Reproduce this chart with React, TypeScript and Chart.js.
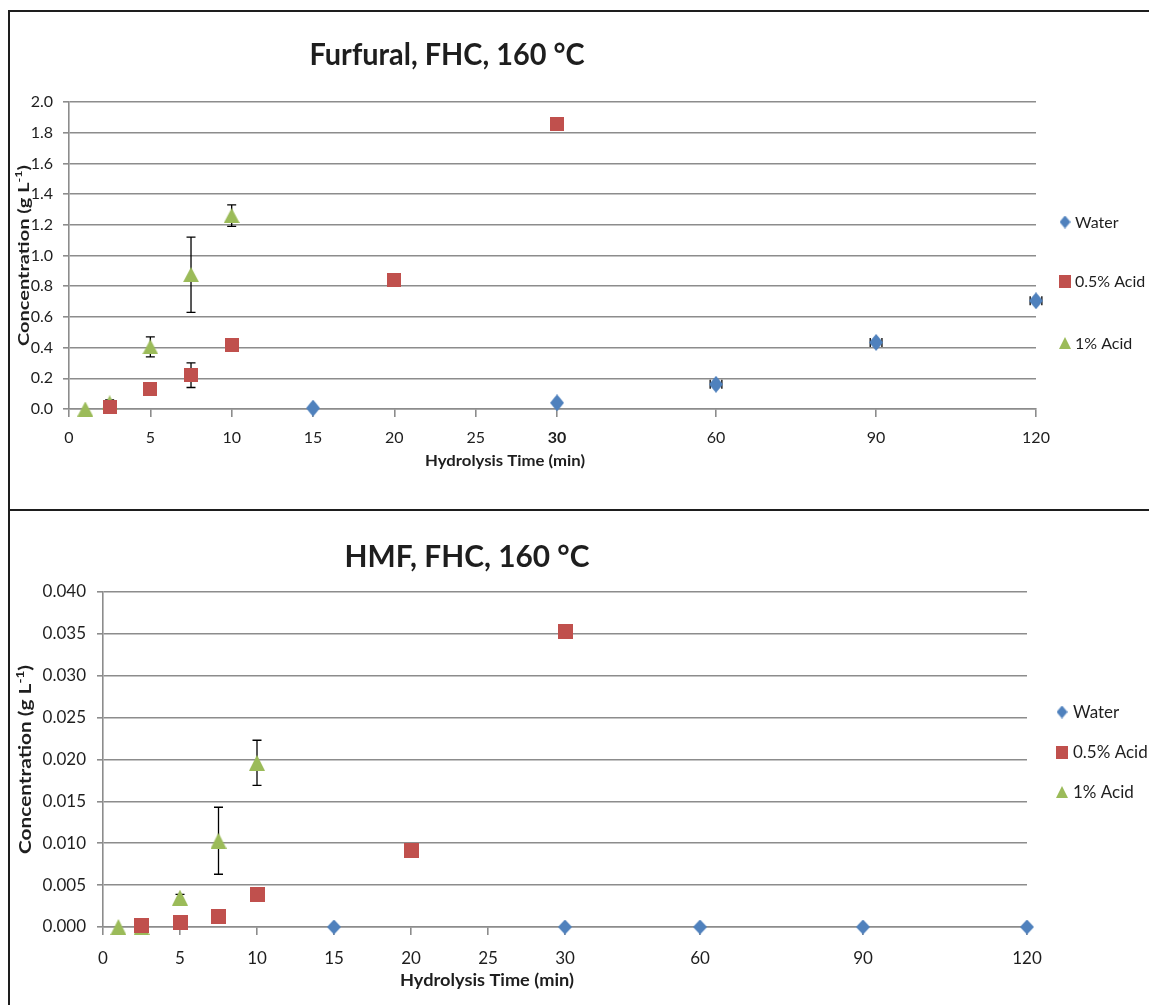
import React, { useEffect, useRef } from 'react';
import { Chart, registerables } from 'chart.js';

Chart.register(...registerables);

// ---------------- DATA ----------------
const timeTicks = [0, 5, 10, 15, 20, 25, 30, 60, 90, 120];
const seriesNames = ['Water', '0.5% Acid', '1% Acid'];

// Furfural (g/L)
const furfuralYTicks = [0, 0.2, 0.4, 0.6, 0.8, 1.0, 1.2, 1.4, 1.6, 1.8, 2.0];
const furfuralWaterX = [15, 30, 60, 90, 120];
const furfuralWaterY = [0.006, 0.04, 0.161, 0.434, 0.705];
const furfuralWaterXErr = [0, 0, 1.1, 1.1, 1.1];
const furfuralAcid05X = [2.5, 5, 7.5, 10, 20, 30];
const furfuralAcid05Y = [0.01, 0.13, 0.22, 0.42, 0.84, 1.855];
const furfuralAcid05YErr = [0, 0, 0.08, 0, 0, 0];
const furfuralAcid1X = [1, 2.5, 5, 7.5, 10];
const furfuralAcid1Y = [0.0, 0.04, 0.405, 0.875, 1.26];
const furfuralAcid1YErr = [0, 0.02, 0.065, 0.245, 0.07];

// HMF (g/L)
const hmfYTicks = [0, 0.005, 0.01, 0.015, 0.02, 0.025, 0.03, 0.035, 0.04];
const hmfWaterX = [15, 30, 60, 90, 120];
const hmfWaterY = [0, 0, 0, 0, 0];
const hmfAcid05X = [2.5, 5, 7.5, 10, 20, 30];
const hmfAcid05Y = [0.0002, 0.0005, 0.0013, 0.0039, 0.0091, 0.0353];
const hmfAcid1X = [1, 2.5, 5, 7.5, 10];
const hmfAcid1Y = [0, 0, 0.0035, 0.0103, 0.0196];
const hmfAcid1YErr = [0, 0, 0.0004, 0.004, 0.0027];

// ---------------- STYLE / LAYOUT ----------------
const FONT = 'Lato, "Open Sans", sans-serif';
const GRID = '#8c8c8c';
const TXT = '#1e1e1e';
const BLUE = '#4F81BD';
const RED = '#C0504D';
const GREEN = '#9BBB59';

// broken time axis: [real minutes, axis units]
const furfuralAxisAnchors = [[0, 0], [30, 30], [60, 39.77], [90, 49.61], [120, 59.44]];
const hmfAxisAnchors = [[0, 0], [30, 30], [60, 38.77], [90, 49.35], [120, 60]];

function toU(x: number, anchors: number[][]): number {
  for (let i = 1; i < anchors.length; i++) {
    const [x0, u0] = anchors[i - 1];
    const [x1, u1] = anchors[i];
    if (x <= x1 || i === anchors.length - 1) return u0 + ((x - x0) * (u1 - u0)) / (x1 - x0);
  }
  return x;
}

function makeMarker(kind: string, w: number, h: number, color: string): HTMLCanvasElement {
  const c = document.createElement('canvas');
  c.width = w;
  c.height = h;
  const g = c.getContext('2d')!;
  g.fillStyle = color;
  g.beginPath();
  if (kind === 'diamond') {
    g.moveTo(w / 2, 0);
    g.lineTo(w, h / 2);
    g.lineTo(w / 2, h);
    g.lineTo(0, h / 2);
  } else if (kind === 'square') {
    g.rect(0, 0, w, h);
  } else {
    g.moveTo(w / 2, 0);
    g.lineTo(w, h);
    g.lineTo(0, h);
  }
  g.closePath();
  g.fill();
  return c;
}

interface Series {
  xs: number[];
  ys: number[];
  yErr?: number[];
  xErr?: number[];
  marker: HTMLCanvasElement;
  legendMarker: HTMLCanvasElement;
}

interface PanelCfg {
  W: number;
  H: number;
  area: { left: number; top: number; right: number; bottom: number };
  xAxisH: number;
  anchors: number[][];
  yTicks: number[];
  yDecimals: number;
  yTickSize: number;
  xTickSize: number;
  yPad: number;
  xPad: number;
  boldThirty: boolean;
  title: string;
  titleSize: number;
  titleX: number;
  titleBase: number;
  titleW: number;
  yTitleX: number;
  yTitleLen: number;
  yTitleSize: number;
  xTitleX: number;
  xTitleBase: number;
  xTitleW: number;
  xTitleSize: number;
  legendX: number;
  legendTextX: number;
  legendYs: number[];
  legendSize: number;
  series: Series[];
}

function fitFill(ctx: CanvasRenderingContext2D, text: string, x: number, y: number, font: string, width: number) {
  ctx.save();
  ctx.font = font;
  const w = ctx.measureText(text).width;
  ctx.translate(x, y);
  ctx.scale(width / w, 1);
  ctx.textAlign = 'center';
  ctx.textBaseline = 'alphabetic';
  ctx.fillStyle = TXT;
  ctx.fillText(text, 0, 0);
  ctx.restore();
}

function drawYTitle(ctx: CanvasRenderingContext2D, cx: number, cy: number, len: number, size: number) {
  ctx.save();
  ctx.translate(cx, cy);
  ctx.rotate(-Math.PI / 2);
  const main = 'Concentration (g L';
  const sup = '-1';
  const end = ')';
  const fMain = `bold ${size}px ${FONT}`;
  const fSup = `bold ${Math.round(size * 0.62)}px ${FONT}`;
  ctx.font = fMain;
  const w1 = ctx.measureText(main).width;
  const w3 = ctx.measureText(end).width;
  ctx.font = fSup;
  const w2 = ctx.measureText(sup).width;
  const total = w1 + w2 + w3;
  ctx.scale(len / total, 1);
  ctx.fillStyle = TXT;
  ctx.textAlign = 'left';
  ctx.textBaseline = 'alphabetic';
  let x = -total / 2;
  ctx.font = fMain;
  ctx.fillText(main, x, 0);
  x += w1;
  ctx.font = fSup;
  ctx.fillText(sup, x, -size * 0.42);
  x += w2;
  ctx.font = fMain;
  ctx.fillText(end, x, 0);
  ctx.restore();
}

function buildChart(canvas: HTMLCanvasElement, cfg: PanelCfg): Chart {
  const { anchors, area } = cfg;
  const plugin = {
    id: 'panelDecor',
    beforeDatasetsDraw(chart: any) {
      const ctx: CanvasRenderingContext2D = chart.ctx;
      const xs = chart.scales.x;
      const ys = chart.scales.y;
      ctx.save();
      ctx.strokeStyle = '#000';
      ctx.lineWidth = 1.3;
      const cap = 4.5;
      cfg.series.forEach((s) => {
        s.xs.forEach((x, i) => {
          const y = s.ys[i];
          const e = s.yErr ? s.yErr[i] : 0;
          const px = xs.getPixelForValue(toU(x, anchors));
          const py = ys.getPixelForValue(y);
          if (e > 0) {
            const t = ys.getPixelForValue(y + e);
            const b = ys.getPixelForValue(y - e);
            ctx.beginPath();
            ctx.moveTo(px, t);
            ctx.lineTo(px, b);
            ctx.moveTo(px - cap, t);
            ctx.lineTo(px + cap, t);
            ctx.moveTo(px - cap, b);
            ctx.lineTo(px + cap, b);
            ctx.stroke();
          }
          const xe = s.xErr ? s.xErr[i] : 0;
          if (xe > 0) {
            const l = xs.getPixelForValue(toU(x - xe, anchors));
            const r = xs.getPixelForValue(toU(x + xe, anchors));
            ctx.beginPath();
            ctx.moveTo(l, py);
            ctx.lineTo(r, py);
            ctx.moveTo(l, py - cap);
            ctx.lineTo(l, py + cap);
            ctx.moveTo(r, py - cap);
            ctx.lineTo(r, py + cap);
            ctx.stroke();
          }
        });
      });
      ctx.restore();
    },
    afterDraw(chart: any) {
      const ctx: CanvasRenderingContext2D = chart.ctx;
      fitFill(ctx, cfg.title, cfg.titleX, cfg.titleBase, `bold ${cfg.titleSize}px ${FONT}`, cfg.titleW);
      const cy = (chart.chartArea.top + chart.chartArea.bottom) / 2;
      drawYTitle(ctx, cfg.yTitleX, cy, cfg.yTitleLen, cfg.yTitleSize);
      fitFill(ctx, 'Hydrolysis Time (min)', cfg.xTitleX, cfg.xTitleBase, `bold ${cfg.xTitleSize}px ${FONT}`, cfg.xTitleW);
      // legend
      ctx.save();
      ctx.font = `${cfg.legendSize}px ${FONT}`;
      ctx.fillStyle = TXT;
      ctx.textAlign = 'left';
      ctx.textBaseline = 'middle';
      cfg.series.forEach((s, i) => {
        const m = s.legendMarker;
        const ly = cfg.legendYs[i];
        ctx.drawImage(m, cfg.legendX - m.width / 2, ly - m.height / 2);
        ctx.fillText(seriesNames[i], cfg.legendTextX, ly + 1);
      });
      ctx.restore();
    },
  };

  const uMax = anchors[anchors.length - 1][1];

  return new Chart(canvas, {
    type: 'scatter',
    data: {
      datasets: cfg.series.map((s, k) => ({
        label: seriesNames[k],
        data: s.xs.map((x, i) => ({ x: toU(x, anchors), y: s.ys[i] })),
        pointStyle: s.marker as any,
        pointRadius: 7,
        pointHoverRadius: 7,
        backgroundColor: '#000',
        borderColor: '#000',
        showLine: false,
        clip: false as any,
      })),
    },
    options: {
      animation: false,
      responsive: false,
      events: [],
      layout: {
        padding: {
          left: 0,
          top: area.top,
          right: cfg.W - area.right,
          bottom: cfg.H - area.bottom - cfg.xAxisH,
        },
      },
      plugins: {
        legend: { display: false },
        tooltip: { enabled: false },
        title: { display: false },
      },
      scales: {
        x: {
          type: 'linear',
          min: 0,
          max: uMax,
          afterBuildTicks: (s: any) => {
            s.ticks = timeTicks.map((t) => ({ value: toU(t, anchors) }));
          },
          afterFit: (s: any) => {
            s.height = cfg.xAxisH;
          },
          grid: {
            display: true,
            drawOnChartArea: false,
            drawTicks: true,
            tickLength: 8,
            color: GRID,
            lineWidth: 1.6,
          },
          border: { display: true, color: GRID, width: 1.6 },
          ticks: {
            autoSkip: false,
            maxRotation: 0,
            minRotation: 0,
            padding: cfg.xPad,
            color: TXT,
            font: (c: any) => ({
              family: FONT,
              size: cfg.xTickSize,
              weight: cfg.boldThirty && c.index === 6 ? 'bold' : 'normal',
            }),
            callback: (_v: any, i: number) => String(timeTicks[i]),
          },
        },
        y: {
          type: 'linear',
          min: 0,
          max: cfg.yTicks[cfg.yTicks.length - 1],
          afterBuildTicks: (s: any) => {
            s.ticks = cfg.yTicks.map((t) => ({ value: t }));
          },
          afterFit: (s: any) => {
            s.width = area.left;
          },
          grid: {
            display: true,
            drawOnChartArea: true,
            drawTicks: true,
            tickLength: 6,
            color: GRID,
            lineWidth: 1.6,
          },
          border: { display: true, color: GRID, width: 1.6 },
          ticks: {
            padding: cfg.yPad,
            color: TXT,
            font: { family: FONT, size: cfg.yTickSize },
            callback: (_v: any, i: number) => cfg.yTicks[i].toFixed(cfg.yDecimals),
          },
        },
      },
    },
    plugins: [plugin],
  } as any);
}

export default function App() {
  const c1 = useRef<HTMLCanvasElement>(null);
  const c2 = useRef<HTMLCanvasElement>(null);

  useEffect(() => {
    const topSeries: Series[] = [
      {
        xs: furfuralWaterX,
        ys: furfuralWaterY,
        xErr: furfuralWaterXErr,
        marker: makeMarker('diamond', 14, 17, BLUE),
        legendMarker: makeMarker('diamond', 11, 13, BLUE),
      },
      {
        xs: furfuralAcid05X,
        ys: furfuralAcid05Y,
        yErr: furfuralAcid05YErr,
        marker: makeMarker('square', 14, 14, RED),
        legendMarker: makeMarker('square', 12, 13, RED),
      },
      {
        xs: furfuralAcid1X,
        ys: furfuralAcid1Y,
        yErr: furfuralAcid1YErr,
        marker: makeMarker('triangle', 16, 15, GREEN),
        legendMarker: makeMarker('triangle', 12, 12, GREEN),
      },
    ];
    const botSeries: Series[] = [
      {
        xs: hmfWaterX,
        ys: hmfWaterY,
        marker: makeMarker('diamond', 14, 15, BLUE),
        legendMarker: makeMarker('diamond', 11, 13, BLUE),
      },
      {
        xs: hmfAcid05X,
        ys: hmfAcid05Y,
        marker: makeMarker('square', 15, 15, RED),
        legendMarker: makeMarker('square', 12, 13, RED),
      },
      {
        xs: hmfAcid1X,
        ys: hmfAcid1Y,
        yErr: hmfAcid1YErr,
        marker: makeMarker('triangle', 16, 16, GREEN),
        legendMarker: makeMarker('triangle', 12, 12, GREEN),
      },
    ];

    const top = buildChart(c1.current!, {
      W: 1139,
      H: 497,
      area: { left: 59, top: 90, right: 1026, bottom: 397 },
      xAxisH: 60,
      anchors: furfuralAxisAnchors,
      yTicks: furfuralYTicks,
      yDecimals: 1,
      yTickSize: 16,
      xTickSize: 16,
      yPad: 10,
      xPad: 11,
      boldThirty: true,
      title: 'Furfural, FHC, 160 °C',
      titleSize: 30,
      titleX: 437,
      titleBase: 53,
      titleW: 275,
      yTitleX: 19,
      yTitleLen: 181,
      yTitleSize: 16,
      xTitleX: 495,
      xTitleBase: 454,
      xTitleW: 160,
      xTitleSize: 16,
      legendX: 1055,
      legendTextX: 1065,
      legendYs: [210, 269, 331],
      legendSize: 16,
      series: topSeries,
    });

    const bot = buildChart(c2.current!, {
      W: 1139,
      H: 494,
      area: { left: 93, top: 81, right: 1017, bottom: 416 },
      xAxisH: 60,
      anchors: hmfAxisAnchors,
      yTicks: hmfYTicks,
      yDecimals: 3,
      yTickSize: 17,
      xTickSize: 17,
      yPad: 11,
      xPad: 13,
      boldThirty: false,
      title: 'HMF, FHC, 160 °C',
      titleSize: 31,
      titleX: 457,
      titleBase: 56,
      titleW: 245,
      yTitleX: 21,
      yTitleLen: 189,
      yTitleSize: 17,
      xTitleX: 477,
      xTitleBase: 475,
      xTitleW: 174,
      xTitleSize: 17,
      legendX: 1052,
      legendTextX: 1063,
      legendYs: [201, 241, 281],
      legendSize: 17,
      series: botSeries,
    });

    return () => {
      top.destroy();
      bot.destroy();
    };
  }, []);

  const line = '#1e1e1e';
  return (
    <div
      style={{
        position: 'absolute',
        left: 0,
        top: 0,
        width: 1149,
        height: 1005,
        overflow: 'hidden',
        background: '#fff',
      }}
    >
      <div style={{ position: 'absolute', left: 8, top: 10, width: 2, height: 995, background: line }} />
      <div style={{ position: 'absolute', left: 8, top: 10, width: 1141, height: 2, background: line }} />
      <div style={{ position: 'absolute', left: 8, top: 509, width: 1141, height: 2, background: line }} />
      <canvas
        ref={c1}
        width={1139}
        height={497}
        style={{ position: 'absolute', left: 10, top: 12, width: 1139, height: 497 }}
      />
      <canvas
        ref={c2}
        width={1139}
        height={494}
        style={{ position: 'absolute', left: 10, top: 511, width: 1139, height: 494 }}
      />
    </div>
  );
}
